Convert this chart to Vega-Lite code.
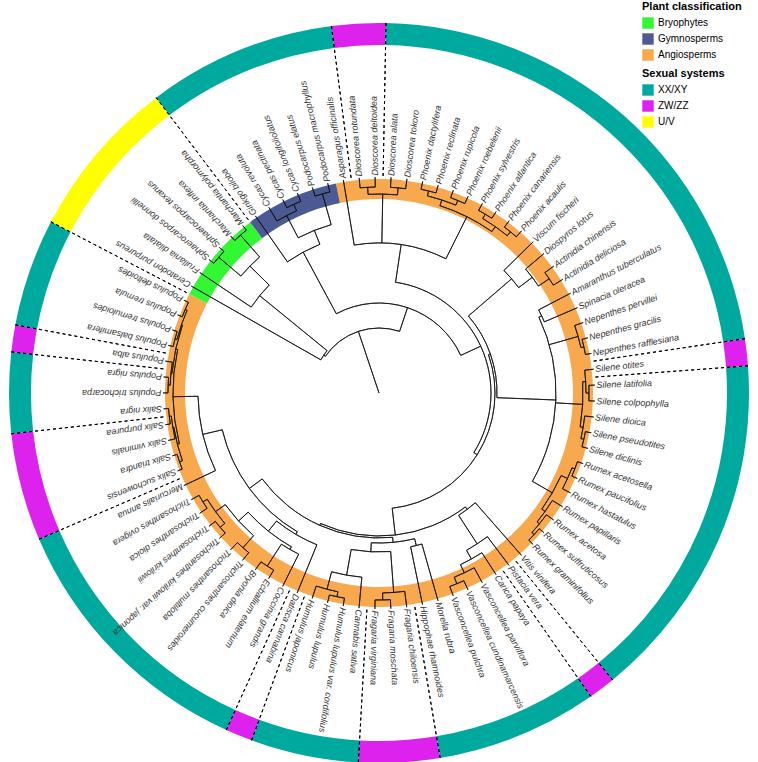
{
"$schema":"https://vega.github.io/schema/vega-lite/v6.json",
"width":758,"height":786,"autosize":"none","padding":0,"background":"white",
"config":{"view":{"stroke":null},"font":"Liberation Sans"},
"datasets":{
"tips":[{"i":1,"n":"Asparagus officinalis"},{"i":2,"n":"Dioscorea rotundata"},{"i":3,"n":"Dioscorea deltoidea"},{"i":4,"n":"Dioscorea alata"},{"i":5,"n":"Dioscorea tokoro"},{"i":6,"n":"Phoenix dactylifera"},{"i":7,"n":"Phoenix reclinata"},{"i":8,"n":"Phoenix rupicola"},{"i":9,"n":"Phoenix roebelenii"},{"i":10,"n":"Phoenix sylvestris"},{"i":11,"n":"Phoenix atlantica"},{"i":12,"n":"Phoenix canariensis"},{"i":13,"n":"Phoenix acaulis"},{"i":14,"n":"Viscum fischeri"},{"i":15,"n":"Diospyros lotus"},{"i":16,"n":"Actinidia chinensis"},{"i":17,"n":"Actinidia deliciosa"},{"i":18,"n":"Amaranthus tuberculatus"},{"i":19,"n":"Spinacia oleracea"},{"i":20,"n":"Nepenthes pervillei"},{"i":21,"n":"Nepenthes gracilis"},{"i":22,"n":"Nepenthes rafflesiana"},{"i":23,"n":"Silene otites"},{"i":24,"n":"Silene latifolia"},{"i":25,"n":"Silene colpophylla"},{"i":26,"n":"Silene dioica"},{"i":27,"n":"Silene pseudotites"},{"i":28,"n":"Silene diclinis"},{"i":29,"n":"Rumex acetosella"},{"i":30,"n":"Rumex paucifolius"},{"i":31,"n":"Rumex hastatulus"},{"i":32,"n":"Rumex papillaris"},{"i":33,"n":"Rumex acetosa"},{"i":34,"n":"Rumex suffruticosus"},{"i":35,"n":"Rumex graminifolius"},{"i":36,"n":"Vitis vinifera"},{"i":37,"n":"Pistacia vera"},{"i":38,"n":"Carica papaya"},{"i":39,"n":"Vasconcellea parviflora"},{"i":40,"n":"Vasconcellea cundinamarcensis"},{"i":41,"n":"Vasconcellea pulchra"},{"i":42,"n":"Morella rubra"},{"i":43,"n":"Hippophae rhamnoides"},{"i":44,"n":"Fragaria chiloensis"},{"i":45,"n":"Fragaria moschata"},{"i":46,"n":"Fragaria virginiana"},{"i":47,"n":"Cannabis sativa"},{"i":48,"n":"Humulus lupulus var. cordifolius"},{"i":49,"n":"Humulus lupulus"},{"i":50,"n":"Humulus japonicus"},{"i":51,"n":"Datisca cannabina"},{"i":52,"n":"Coccinia grandis"},{"i":53,"n":"Ecballium elaterium"},{"i":54,"n":"Bryonia dioica"},{"i":55,"n":"Trichosanthes cucumeroides"},{"i":56,"n":"Trichosanthes multiloba"},{"i":57,"n":"Trichosanthes kirilowii var. japonica"},{"i":58,"n":"Trichosanthes kirilowii"},{"i":59,"n":"Trichosanthes dioica"},{"i":60,"n":"Trichosanthes ovigera"},{"i":61,"n":"Mercurialis annua"},{"i":62,"n":"Salix suchowensis"},{"i":63,"n":"Salix triandra"},{"i":64,"n":"Salix viminalis"},{"i":65,"n":"Salix purpurea"},{"i":66,"n":"Salix nigra"},{"i":67,"n":"Populus trichocarpa"},{"i":68,"n":"Populus nigra"},{"i":69,"n":"Populus alba"},{"i":70,"n":"Populus balsamifera"},{"i":71,"n":"Populus tremuloides"},{"i":72,"n":"Populus tremula"},{"i":73,"n":"Populus deltoides"},{"i":74,"n":"Ceratodon purpureus"},{"i":75,"n":"Frullania dilatata"},{"i":76,"n":"Sphaerocarpos donnellii"},{"i":77,"n":"Sphaerocarpos texanus"},{"i":78,"n":"Marchantia inflexa"},{"i":79,"n":"Marchantia polymorpha"},{"i":80,"n":"Ginkgo biloba"},{"i":81,"n":"Cycas revoluta"},{"i":82,"n":"Cycas pectinata"},{"i":83,"n":"Cycas longifoliolatus"},{"i":84,"n":"Podocarpus elatus"},{"i":85,"n":"Podocarpus macrophyllus"}],
"band":[{"c":"Angiosperms","a":0.5,"b":73.5},{"c":"Bryophytes","a":73.5,"b":79.5},{"c":"Gymnosperms","a":79.5,"b":85.5}],
"ring":[{"y":"XX/XY","a":-5.5,"b":1.5},{"y":"ZW/ZZ","a":1.5,"b":3.5},{"y":"XX/XY","a":3.5,"b":22.5},{"y":"ZW/ZZ","a":22.5,"b":23.5},{"y":"XX/XY","a":23.5,"b":36.5},{"y":"ZW/ZZ","a":36.5,"b":37.5},{"y":"XX/XY","a":37.5,"b":43.5},{"y":"ZW/ZZ","a":43.5,"b":46.5},{"y":"XX/XY","a":46.5,"b":50.5},{"y":"ZW/ZZ","a":50.5,"b":51.5},{"y":"XX/XY","a":51.5,"b":61.5},{"y":"ZW/ZZ","a":61.5,"b":65.5},{"y":"XX/XY","a":65.5,"b":68.5},{"y":"ZW/ZZ","a":68.5,"b":69.5},{"y":"XX/XY","a":69.5,"b":73.5},{"y":"U/V","a":73.5,"b":79.5}],
"cuts":[{"a":1.5},{"a":3.5},{"a":22.5},{"a":23.5},{"a":36.5},{"a":37.5},{"a":43.5},{"a":46.5},{"a":50.5},{"a":51.5},{"a":61.5},{"a":65.5},{"a":68.5},{"a":69.5},{"a":73.5},{"a":79.5}],
"edges":[
{"a":1,"b":1,"r":150,"s":216},{"a":2,"b":2,"r":206,"s":216},{"a":3,"b":3,"r":206,"s":216},{"a":4,"b":4,"r":206,"s":216},{"a":5,"b":5,"r":206,"s":216},
{"a":6,"b":6,"r":208,"s":216},{"a":7,"b":7,"r":208,"s":216},{"a":8,"b":8,"r":208,"s":216},{"a":9,"b":9,"r":208,"s":216},{"a":10,"b":10,"r":208,"s":216},{"a":11,"b":11,"r":208,"s":216},{"a":12,"b":12,"r":208,"s":216},{"a":13,"b":13,"r":208,"s":216},
{"a":14,"b":14,"r":175,"s":216},{"a":15,"b":15,"r":192,"s":216},{"a":16,"b":16,"r":205,"s":216},{"a":17,"b":17,"r":205,"s":216},
{"a":18,"b":18,"r":180,"s":216},{"a":19,"b":19,"r":180,"s":216},{"a":20,"b":20,"r":207,"s":216},{"a":21,"b":21,"r":210,"s":216},{"a":22,"b":22,"r":210,"s":216},
{"a":23,"b":23,"r":207,"s":216},{"a":24,"b":24,"r":210,"s":216},{"a":25,"b":25,"r":210,"s":216},{"a":26,"b":26,"r":207,"s":216},{"a":27,"b":27,"r":210,"s":216},{"a":28,"b":28,"r":210,"s":216},
{"a":29,"b":29,"r":210,"s":216},{"a":30,"b":30,"r":210,"s":216},{"a":31,"b":31,"r":207,"s":216},{"a":32,"b":32,"r":204,"s":216},{"a":33,"b":33,"r":207,"s":216},{"a":34,"b":34,"r":210,"s":216},{"a":35,"b":35,"r":210,"s":216},
{"a":36,"b":36,"r":146,"s":216},{"a":37,"b":37,"r":180,"s":216},{"a":38,"b":38,"r":190,"s":216},{"a":39,"b":39,"r":199,"s":216},{"a":40,"b":40,"r":206,"s":216},{"a":41,"b":41,"r":206,"s":216},
{"a":42,"b":42,"r":157,"s":216},{"a":43,"b":43,"r":157,"s":216},{"a":44,"b":44,"r":200,"s":216},{"a":45,"b":45,"r":207,"s":216},{"a":46,"b":46,"r":207,"s":216},
{"a":47,"b":47,"r":185,"s":216},{"a":48,"b":48,"r":208,"s":216},{"a":49,"b":49,"r":208,"s":216},{"a":50,"b":50,"r":203,"s":216},
{"a":51,"b":51,"r":164,"s":216},{"a":52,"b":52,"r":180,"s":216},{"a":53,"b":53,"r":206,"s":216},{"a":54,"b":54,"r":206,"s":216},{"a":55,"b":55,"r":206,"s":216},{"a":56,"b":56,"r":206,"s":216},{"a":57,"b":57,"r":208,"s":216},{"a":58,"b":58,"r":208,"s":216},{"a":59,"b":59,"r":207,"s":216},{"a":60,"b":60,"r":207,"s":216},
{"a":61,"b":61,"r":181,"s":216},{"a":62,"b":62,"r":211,"s":216},{"a":63,"b":63,"r":211,"s":216},{"a":64,"b":64,"r":209,"s":216},{"a":65,"b":65,"r":211,"s":216},{"a":66,"b":66,"r":211,"s":216},
{"a":67,"b":67,"r":211,"s":216},{"a":68,"b":68,"r":211,"s":216},{"a":69,"b":69,"r":209,"s":216},{"a":70,"b":70,"r":211,"s":216},{"a":71,"b":71,"r":211,"s":216},{"a":72,"b":72,"r":211,"s":216},{"a":73,"b":73,"r":211,"s":216},
{"a":74,"b":74,"r":67,"s":216},{"a":75,"b":75,"r":154,"s":216},{"a":76,"b":76,"r":210,"s":216},{"a":77,"b":77,"r":210,"s":216},{"a":78,"b":78,"r":210,"s":216},{"a":79,"b":79,"r":210,"s":216},
{"a":80,"b":80,"r":160,"s":216},{"a":81,"b":81,"r":200,"s":216},{"a":82,"b":82,"r":207,"s":216},{"a":83,"b":83,"r":207,"s":216},{"a":84,"b":84,"r":207,"s":216},{"a":85,"b":85,"r":207,"s":216},
{"a":-1.13,"b":-1.13,"r":0,"s":65},{"a":-9.875,"b":7.61,"r":65,"s":65},
{"a":75.125,"b":75.125,"r":65,"s":67},{"a":74,"b":76.25,"r":67,"s":67},
{"a":76.25,"b":76.25,"r":67,"s":154},{"a":75,"b":77.5,"r":154,"s":154},
{"a":77.5,"b":77.5,"r":154,"s":181},{"a":76.5,"b":78.5,"r":181,"s":181},
{"a":76.5,"b":76.5,"r":181,"s":210},{"a":76,"b":77,"r":210,"s":210},
{"a":78.5,"b":78.5,"r":181,"s":210},{"a":78,"b":79,"r":210,"s":210},
{"a":7.61,"b":7.61,"r":65,"s":90},{"a":-3.4375,"b":18.66,"r":90,"s":90},
{"a":81.5625,"b":81.5625,"r":90,"s":160},{"a":80,"b":83.125,"r":160,"s":160},
{"a":83.125,"b":83.125,"r":160,"s":175},{"a":81.75,"b":84.5,"r":175,"s":175},
{"a":81.75,"b":81.75,"r":175,"s":200},{"a":81,"b":82.5,"r":200,"s":200},
{"a":82.5,"b":82.5,"r":200,"s":207},{"a":82,"b":83,"r":207,"s":207},
{"a":84.5,"b":84.5,"r":175,"s":207},{"a":84,"b":85,"r":207,"s":207},
{"a":18.66,"b":18.66,"r":90,"s":112},{"a":5.25,"b":32.08,"r":112,"s":112},
{"a":5.25,"b":5.25,"r":112,"s":150},{"a":1,"b":9.5,"r":150,"s":150},
{"a":3.5,"b":3.5,"r":150,"s":199},{"a":2.5,"b":4.5,"r":199,"s":199},
{"a":2.5,"b":2.5,"r":199,"s":206},{"a":2,"b":3,"r":206,"s":206},
{"a":4.5,"b":4.5,"r":199,"s":206},{"a":4,"b":5,"r":206,"s":206},
{"a":9.5,"b":9.5,"r":150,"s":197},{"a":7.5,"b":11.5,"r":197,"s":197},
{"a":7.5,"b":7.5,"r":197,"s":203},{"a":6.5,"b":8.5,"r":203,"s":203},
{"a":11.5,"b":11.5,"r":197,"s":203},{"a":10.5,"b":12.5,"r":203,"s":203},
{"a":6.5,"b":6.5,"r":203,"s":208},{"a":6,"b":7,"r":208,"s":208},
{"a":8.5,"b":8.5,"r":203,"s":208},{"a":8,"b":9,"r":208,"s":208},
{"a":10.5,"b":10.5,"r":203,"s":208},{"a":10,"b":11,"r":208,"s":208},
{"a":12.5,"b":12.5,"r":203,"s":208},{"a":12,"b":13,"r":208,"s":208},
{"a":32.08,"b":32.08,"r":112,"s":116},{"a":19.95,"b":44.2,"r":116,"s":116},
{"a":19.95,"b":19.95,"r":116,"s":118},{"a":14.875,"b":25.03,"r":118,"s":118},
{"a":14.875,"b":14.875,"r":118,"s":175},{"a":14,"b":15.75,"r":175,"s":175},
{"a":15.75,"b":15.75,"r":175,"s":192},{"a":15,"b":16.5,"r":192,"s":192},
{"a":16.5,"b":16.5,"r":192,"s":205},{"a":16,"b":17,"r":205,"s":205},
{"a":25.03,"b":25.03,"r":118,"s":177},{"a":18.5,"b":31.5625,"r":177,"s":177},
{"a":18.5,"b":18.5,"r":177,"s":180},{"a":18,"b":19,"r":180,"s":180},
{"a":20.75,"b":20.75,"r":177,"s":207},{"a":20,"b":21.5,"r":207,"s":207},
{"a":21.5,"b":21.5,"r":207,"s":210},{"a":21,"b":22,"r":210,"s":210},
{"a":25.25,"b":25.25,"r":177,"s":204},{"a":23.75,"b":26.75,"r":204,"s":204},
{"a":23.75,"b":23.75,"r":204,"s":207},{"a":23,"b":24.5,"r":207,"s":207},
{"a":24.5,"b":24.5,"r":207,"s":210},{"a":24,"b":25,"r":210,"s":210},
{"a":26.75,"b":26.75,"r":204,"s":207},{"a":26,"b":27.5,"r":207,"s":207},
{"a":27.5,"b":27.5,"r":207,"s":210},{"a":27,"b":28,"r":210,"s":210},
{"a":31.5625,"b":31.5625,"r":177,"s":200},{"a":30.25,"b":32.875,"r":200,"s":200},
{"a":30.25,"b":30.25,"r":200,"s":207},{"a":29.5,"b":31,"r":207,"s":207},
{"a":29.5,"b":29.5,"r":207,"s":210},{"a":29,"b":30,"r":210,"s":210},
{"a":32.875,"b":32.875,"r":200,"s":204},{"a":32,"b":33.75,"r":204,"s":204},
{"a":33.75,"b":33.75,"r":204,"s":207},{"a":33,"b":34.5,"r":207,"s":207},
{"a":34.5,"b":34.5,"r":207,"s":210},{"a":34,"b":35,"r":210,"s":210},
{"a":44.2,"b":44.2,"r":116,"s":143},{"a":36.97,"b":51.44,"r":143,"s":143},
{"a":36.97,"b":36.97,"r":143,"s":146},{"a":36,"b":37.94,"r":146,"s":146},
{"a":37.94,"b":37.94,"r":146,"s":180},{"a":37,"b":38.875,"r":180,"s":180},
{"a":38.875,"b":38.875,"r":180,"s":190},{"a":38,"b":39.75,"r":190,"s":190},
{"a":39.75,"b":39.75,"r":190,"s":199},{"a":39,"b":40.5,"r":199,"s":199},
{"a":40.5,"b":40.5,"r":199,"s":206},{"a":40,"b":41,"r":206,"s":206},
{"a":51.44,"b":51.44,"r":143,"s":145},{"a":44.47,"b":58.41,"r":145,"s":145},
{"a":44.47,"b":44.47,"r":145,"s":150},{"a":42.5,"b":46.44,"r":150,"s":150},
{"a":42.5,"b":42.5,"r":150,"s":157},{"a":42,"b":43,"r":157,"s":157},
{"a":46.44,"b":46.44,"r":150,"s":159},{"a":44.75,"b":48.125,"r":159,"s":159},
{"a":44.75,"b":44.75,"r":159,"s":200},{"a":44,"b":45.5,"r":200,"s":200},
{"a":45.5,"b":45.5,"r":200,"s":207},{"a":45,"b":46,"r":207,"s":207},
{"a":48.125,"b":48.125,"r":159,"s":185},{"a":47,"b":49.25,"r":185,"s":185},
{"a":49.25,"b":49.25,"r":185,"s":203},{"a":48.5,"b":50,"r":203,"s":203},
{"a":48.5,"b":48.5,"r":203,"s":208},{"a":48,"b":49,"r":208,"s":208},
{"a":58.41,"b":58.41,"r":145,"s":161},{"a":52.94,"b":63.875,"r":161,"s":161},
{"a":52.94,"b":52.94,"r":161,"s":164},{"a":51,"b":54.875,"r":164,"s":164},
{"a":54.875,"b":54.875,"r":164,"s":177},{"a":52.75,"b":57,"r":177,"s":177},
{"a":52.75,"b":52.75,"r":177,"s":180},{"a":52,"b":53.5,"r":180,"s":180},
{"a":53.5,"b":53.5,"r":180,"s":206},{"a":53,"b":54,"r":206,"s":206},
{"a":57,"b":57,"r":177,"s":190},{"a":55.5,"b":58.5,"r":190,"s":190},
{"a":55.5,"b":55.5,"r":190,"s":206},{"a":55,"b":56,"r":206,"s":206},
{"a":58.5,"b":58.5,"r":190,"s":202},{"a":57.5,"b":59.5,"r":202,"s":202},
{"a":57.5,"b":57.5,"r":202,"s":208},{"a":57,"b":58,"r":208,"s":208},
{"a":59.5,"b":59.5,"r":202,"s":207},{"a":59,"b":60,"r":207,"s":207},
{"a":63.875,"b":63.875,"r":161,"s":181},{"a":61,"b":66.75,"r":181,"s":181},
{"a":66.75,"b":66.75,"r":181,"s":206},{"a":63.625,"b":69.875,"r":206,"s":206},
{"a":63.625,"b":63.625,"r":206,"s":208},{"a":62.5,"b":64.75,"r":208,"s":208},
{"a":62.5,"b":62.5,"r":208,"s":211},{"a":62,"b":63,"r":211,"s":211},
{"a":64.75,"b":64.75,"r":208,"s":209},{"a":64,"b":65.5,"r":209,"s":209},
{"a":65.5,"b":65.5,"r":209,"s":211},{"a":65,"b":66,"r":211,"s":211},
{"a":69.875,"b":69.875,"r":206,"s":208},{"a":68.25,"b":71.5,"r":208,"s":208},
{"a":68.25,"b":68.25,"r":208,"s":209},{"a":67.5,"b":69,"r":209,"s":209},
{"a":67.5,"b":67.5,"r":209,"s":211},{"a":67,"b":68,"r":211,"s":211},
{"a":71.5,"b":71.5,"r":208,"s":209},{"a":70.5,"b":72.5,"r":209,"s":209},
{"a":70.5,"b":70.5,"r":209,"s":211},{"a":70,"b":71,"r":211,"s":211},
{"a":72.5,"b":72.5,"r":209,"s":211},{"a":72,"b":73,"r":211,"s":211}
]},
"layer":[
{"data":{"name":"ring"},"mark":{"type":"arc","radius":370,"radius2":348},
 "encoding":{"theta":{"field":"a","type":"quantitative","stack":null,"scale":{"type":"linear","domain":[0,85],"range":[-0.239808,6.043377],"zero":false,"nice":false}},"theta2":{"field":"b"},
 "color":{"field":"y","type":"nominal","scale":{"domain":["XX/XY","ZW/ZZ","U/V"],"range":["#00A99D","#DD22EE","#FFFF00"]},
  "legend":{"title":"Sexual systems","orient":"none","legendX":642,"legendY":68,"symbolType":"square","symbolSize":130,"symbolStrokeWidth":0,"titleFontSize":11,"titleFontWeight":"bold","titleColor":"#000","titlePadding":5,"labelFontSize":10,"labelColor":"#000","rowPadding":4,"labelOffset":4,"padding":0}}}},
{"data":{"name":"band"},"mark":{"type":"arc","radius":214,"radius2":194},
 "encoding":{"theta":{"field":"a","type":"quantitative","stack":null,"scale":{"type":"linear","domain":[0,85],"range":[-0.239808,6.043377],"zero":false,"nice":false}},"theta2":{"field":"b"},
 "fill":{"field":"c","type":"nominal","scale":{"domain":["Bryophytes","Gymnosperms","Angiosperms"],"range":["#33F733","#4B5A92","#F8A84D"]},
  "legend":{"title":"Plant classification","orient":"none","legendX":642,"legendY":1,"symbolType":"square","symbolSize":130,"symbolStrokeWidth":0,"titleFontSize":11,"titleFontWeight":"bold","titleColor":"#000","titlePadding":5,"labelFontSize":10,"labelColor":"#000","rowPadding":4,"labelOffset":4,"padding":0}}}},
{"data":{"name":"cuts"},"mark":{"type":"arc","radius":370,"radius2":215.5,"filled":false,"stroke":"#000","strokeWidth":1,"strokeDash":[3,3]},
 "encoding":{"theta":{"field":"a","type":"quantitative","stack":null,"scale":{"type":"linear","domain":[0,85],"range":[-0.239808,6.043377],"zero":false,"nice":false}},"theta2":{"field":"a"}}},
{"data":{"name":"edges"},"mark":{"type":"arc","filled":false,"stroke":"#111","strokeWidth":0.8},
 "encoding":{"theta":{"field":"a","type":"quantitative","stack":null,"scale":{"type":"linear","domain":[0,85],"range":[-0.239808,6.043377],"zero":false,"nice":false}},"theta2":{"field":"b"},
 "radius":{"field":"r","type":"quantitative","scale":{"type":"linear","domain":[0,400],"range":[0,400],"zero":true,"nice":false}},"radius2":{"field":"s"}}},
{"data":{"name":"tips"},"mark":{"type":"text","radius":217.5,"align":"left","baseline":"middle","fontSize":9,"fontStyle":"italic","font":"Liberation Sans","color":"#333"},
 "encoding":{"theta":{"field":"i","type":"quantitative","stack":null,"scale":{"type":"linear","domain":[0,85],"range":[-0.239808,6.043377],"zero":false,"nice":false}},
 "angle":{"field":"i","type":"quantitative","scale":{"type":"linear","domain":[0,85],"range":[-103.74,256.26],"zero":false,"nice":false},"legend":null},
 "text":{"field":"n"}}}
]}
